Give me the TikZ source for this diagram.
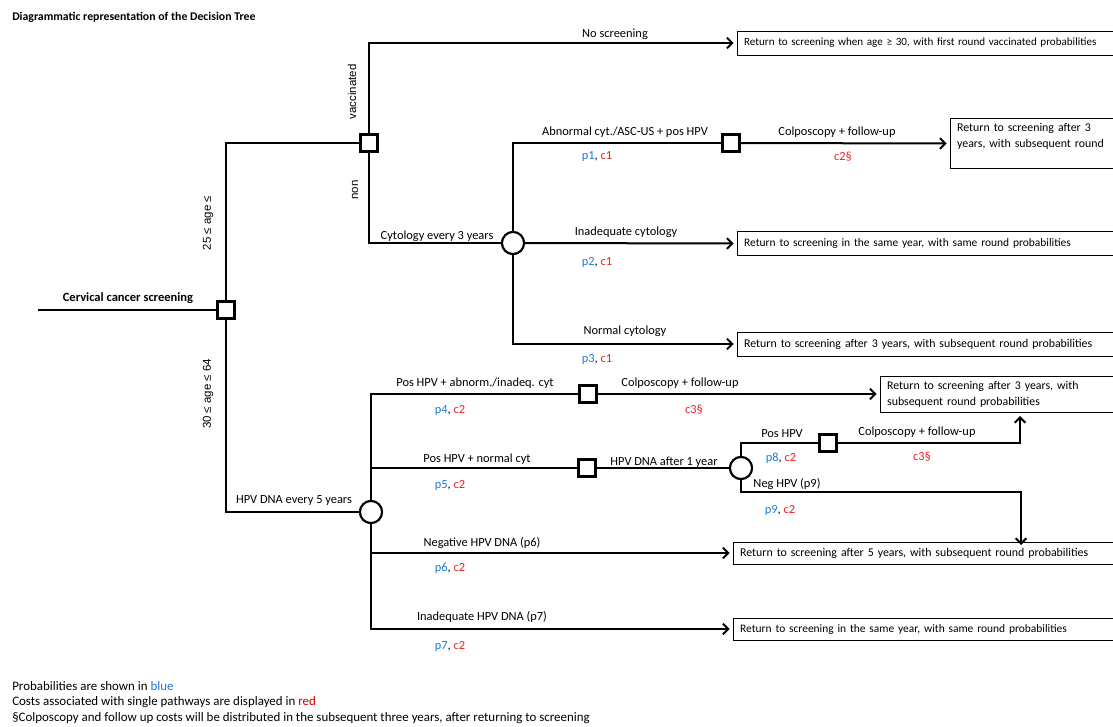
\documentclass[tikz,border=0pt]{standalone}
\usepackage{fontspec}
\setmainfont{Carlito}
\newfontfamily\arialf{Liberation Sans}
\usetikzlibrary{arrows.meta}
\definecolor{pblue}{RGB}{30,120,215}
\definecolor{cred}{RGB}{240,30,30}
\definecolor{lred}{RGB}{200,0,0}
\newcommand{\pc}[2]{\textcolor{pblue}{#1}, \textcolor{cred}{#2}}
\begin{document}
\begin{tikzpicture}[x=0.75pt,y=-0.75pt,
  every node/.style={font=\fontsize{9.3}{12}\selectfont, inner sep=0pt},
  dnode/.style={draw, line width=1.9pt, minimum size=13pt, fill=white},
  cnode/.style={draw, circle, line width=1.5pt, minimum size=16.5pt, fill=white},
  endbox/.style={draw, line width=0.7pt, anchor=west, align=left, inner xsep=5pt, inner ysep=3pt, font=\fontsize{8.9}{12}\selectfont},
  conn/.style={line width=1.5pt},
  arr/.style={line width=1.5pt, -{Straight Barb[length=4pt,width=8pt,line width=1.5pt]}, shorten >=2.5pt},
  rot/.style={rotate=90, font=\arialf\fontsize{8.6}{10}\selectfont},
  legend/.style={anchor=west, font=\fontsize{9.7}{12}\selectfont}
]
\useasboundingbox (0,0) rectangle (1113,726);

% title
\node[anchor=west, font=\fontsize{8.85}{10}\selectfont\bfseries] (title) at (12,17) {Diagrammatic representation of the Decision Tree};

% decision / chance nodes
\coordinate (start) at (38,310);
\node[dnode] (root) at (226,310) {};
\node[dnode] (vac) at (369,143) {};
\node[cnode] (cyt) at (513,243) {};
\node[dnode] (sq1) at (731,143) {};
\node[cnode] (hpv) at (371,512) {};
\node[dnode] (sq4) at (588,394) {};
\node[dnode] (sq5) at (587,468) {};
\node[cnode] (c2) at (741,468) {};
\node[dnode] (sq8) at (828,443) {};

% end boxes
\node[endbox, text width=292pt, minimum height=18pt, font=\fontsize{8.3}{12}\selectfont] (box1) at (737,43) {Return to screening when age ≥ 30, with first round vaccinated probabilities};
\node[endbox, text width=115pt, minimum height=37pt] (box2) at (950,143.5) {Return to screening after 3\\years, with subsequent round\\~};
\node[endbox, text width=290pt, minimum height=18.5pt, font=\fontsize{8.6}{12}\selectfont] (box3) at (737,243.5) {Return to screening in the same year, with same round probabilities};
\node[endbox, text width=290pt, minimum height=18pt] (box4) at (737,344) {Return to screening after 3 years, with subsequent round probabilities};
\node[endbox, text width=165pt, minimum height=27pt] (box5) at (880,394) {Return to screening after 3 years, with\\subsequent round probabilities};
\node[endbox, text width=290pt, minimum height=16.5pt] (box6) at (733,553) {Return to screening after 5 years, with subsequent round probabilities};
\node[endbox, text width=290pt, minimum height=16.5pt, font=\fontsize{8.6}{12}\selectfont] (box7) at (733,629) {Return to screening in the same year, with same round probabilities};

\coordinate (up1) at (1020,416);
\coordinate (dn1) at (1021,545);

% connectors
\draw[conn] (start) -- (root.west);
\draw[conn] (root.north) |- (vac.west);
\draw[conn] (root.south) |- (hpv.west);
\draw[arr] (vac.north) |- (box1.west);
\draw[conn] (vac.south) |- (cyt.west);
\draw[conn] (cyt.north) |- (sq1.west);
\draw[arr] (sq1.east) -- (box2.west);
\draw[arr] (cyt.east) -- (box3.west);
\draw[arr] (cyt.south) |- (box4.west);
\draw[conn] (hpv.north) |- (sq4.west);
\draw[arr] (sq4.east) -- (box5.west);
\draw[conn] (hpv.north) |- (sq5.west);
\draw[conn] (sq5.east) -- (c2.west);
\draw[conn] (c2.north) |- (sq8.west);
\draw[arr, shorten >=0pt] (sq8.east) -| (up1);
\draw[arr, shorten >=0pt] (c2.south) -- ++(0,12) -| (dn1);
\draw[arr] (hpv.south) |- (box6.west);
\draw[arr] (hpv.south) |- (box7.west);

% redraw nodes on top
\node[dnode] at (root) {};
\node[dnode] at (vac) {};
\node[cnode] at (cyt) {};
\node[dnode] at (sq1) {};
\node[cnode] at (hpv) {};
\node[dnode] at (sq4) {};
\node[dnode] at (sq5) {};
\node[cnode] at (c2) {};
\node[dnode] at (sq8) {};

% labels
\node[font=\fontsize{9.4}{10}\selectfont\bfseries] (lroot) at (128,298) {Cervical cancer screening};
\node[rot] (lage1) at (208,223) {25 ≤ age ≤};
\node[rot] (lage2) at (208,394) {30 ≤ age ≤ 64};
\node[rot] (lvac) at (352,92) {vaccinated};
\node[rot] (lnon) at (355,190) {non};
\node (lnos) at (615,34) {No screening};
\node (lcyt) at (437,236) {Cytology every 3 years};
\node (lhpv) at (294,501) {HPV DNA every 5 years};

\node (l1) at (625,132) {Abnormal cyt./ASC-US + pos HPV};
\node (l1b) at (837,132) {Colposcopy + follow-up};
\node (p1) at (597,157) {\pc{p1}{c1}};
\node[text=cred] (c1b) at (843,157) {c2§};
\node (l2) at (626,232) {Inadequate cytology};
\node (p2) at (597,262) {\pc{p2}{c1}};
\node (l3) at (625,331) {Normal cytology};
\node (p3) at (597,359) {\pc{p3}{c1}};

\node (l4) at (475,383) {Pos HPV + abnorm./inadeq. cyt};
\node (l4b) at (680,383) {Colposcopy + follow-up};
\node (p4) at (450,410) {\pc{p4}{c2}};
\node[text=cred] (c4b) at (694,410) {c3§};
\node (l5) at (477,459) {Pos HPV + normal cyt};
\node (l5b) at (664,462) {HPV DNA after 1 year};
\node (p5) at (450,485) {\pc{p5}{c2}};
\node (l8) at (782,434) {Pos HPV};
\node (l8b) at (917,432) {Colposcopy + follow-up};
\node (p8) at (781,458) {\pc{p8}{c2}};
\node[text=cred] (c8b) at (922,457) {c3§};
\node (l9) at (787,484) {Neg HPV (p9)};
\node (p9) at (780,510) {\pc{p9}{c2}};
\node (l6) at (482,543) {Negative HPV DNA (p6)};
\node (p6) at (450,568) {\pc{p6}{c2}};
\node (l7) at (482,617) {Inadequate HPV DNA (p7)};
\node (p7) at (450,646) {\pc{p7}{c2}};

% legend
\node[legend] (leg1) at (12,686) {Probabilities are shown in \textcolor{pblue}{blue}};
\node[legend] (leg2) at (12,702) {Costs associated with single pathways are displayed in \textcolor{lred}{red}};
\node[legend] (leg3) at (12,718) {§Colposcopy and follow up costs will be distributed in the subsequent three years, after returning to screening};
\end{tikzpicture}
\end{document}
